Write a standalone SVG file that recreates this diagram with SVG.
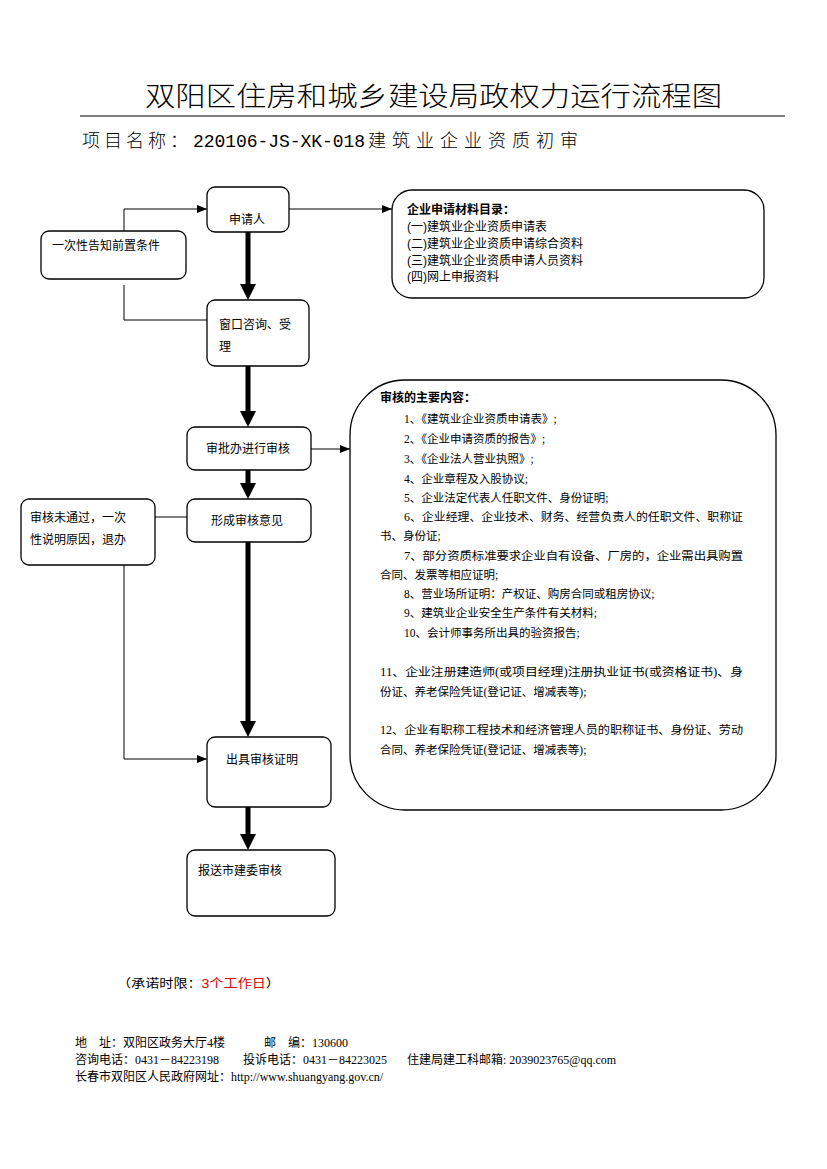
<svg xmlns="http://www.w3.org/2000/svg" width="827" height="1169" viewBox="0 0 827 1169">
<style>
.bg{fill:#fff}
.box{fill:#fff;stroke:#000;stroke-width:1.3}
.t{font-family:"Liberation Serif","Noto Sans CJK SC",sans-serif;font-size:11.5px;fill:#000}
.n{font-family:"Liberation Sans","Noto Sans CJK SC",sans-serif;font-size:12px;fill:#000}
.b{font-weight:bold}
.thin{fill:none;stroke:#000;stroke-width:1}
.thick{fill:none;stroke:#000;stroke-width:5}
.f{font-family:"Liberation Serif","Noto Sans CJK SC",sans-serif;font-size:12px;fill:#000}
</style>
<defs>
<marker id="ah" viewBox="0 0 16 16" refX="4" refY="8" markerWidth="16" markerHeight="16" markerUnits="userSpaceOnUse" orient="auto"><path d="M0,0 L16,8 L0,16 z" fill="#000"/></marker>
<marker id="as" viewBox="0 0 10 8" refX="10" refY="4" markerWidth="10" markerHeight="8" markerUnits="userSpaceOnUse" orient="auto"><path d="M0,0 L10,4 L0,8 z" fill="#000"/></marker>
</defs>
<rect class="bg" width="827" height="1169"/>

<g id="header">
<text x="145" y="106" font-family="Noto Sans CJK SC,sans-serif" font-size="27" font-weight="300" textLength="577" lengthAdjust="spacingAndGlyphs">双阳区住房和城乡建设局政权力运行流程图</text>
<line x1="80" y1="116" x2="785" y2="116" stroke="#000" stroke-width="1"/>
<text y="147" font-family="Noto Sans CJK SC,sans-serif" font-size="18" font-weight="300"><tspan x="82" letter-spacing="4">项目名称：</tspan><tspan x="193" font-family="Liberation Mono,monospace" textLength="172" lengthAdjust="spacing">220106-JS-XK-018</tspan><tspan x="368" letter-spacing="6">建筑业企业资质初审</tspan></text>
</g>

<g id="connectors">
<line class="thick" x1="248" y1="232" x2="248" y2="288" marker-end="url(#ah)"/>
<line class="thick" x1="248" y1="366" x2="248" y2="415" marker-end="url(#ah)"/>
<line class="thick" x1="248" y1="470" x2="248" y2="487" marker-end="url(#ah)"/>
<line class="thick" x1="248" y1="542" x2="248" y2="725" marker-end="url(#ah)"/>
<line class="thick" x1="248" y1="807" x2="248" y2="838" marker-end="url(#ah)"/>
<path class="thin" d="M124,231 V209 H207" marker-end="url(#as)"/>
<path class="thin" d="M124,285 V320 H207"/>
<line class="thin" x1="289" y1="209" x2="392" y2="209" marker-end="url(#as)"/>
<line class="thin" x1="311" y1="449" x2="350" y2="449" marker-end="url(#as)"/>
<line class="thin" x1="155" y1="517" x2="187" y2="517"/>
<path class="thin" d="M124,563 V759 H207" marker-end="url(#as)"/>
</g>

<g id="applicant">
<rect class="box" x="207" y="187" width="82" height="45" rx="8"/>
<text class="n" x="229" y="224" font-size="14">申请人</text>
</g>
<g id="precondition">
<rect class="box" x="41" y="231" width="145" height="48" rx="8"/>
<text class="n" x="52" y="250">一次性告知前置条件</text>
</g>
<g id="materials">
<rect class="box" x="392" y="190" width="372" height="108" rx="20"/>
<text class="n b" x="407" y="214" font-size="11">企业申请材料目录：</text>
<text class="n" x="407" y="231" font-size="11">(一)建筑业企业资质申请表</text>
<text class="n" x="407" y="248" font-size="11">(二)建筑业企业资质申请综合资料</text>
<text class="n" x="407" y="265" font-size="11">(三)建筑业企业资质申请人员资料</text>
<text class="n" x="407" y="281" font-size="11">(四)网上申报资料</text>
</g>
<g id="window">
<rect class="box" x="207" y="300" width="102" height="66" rx="8"/>
<text class="n" x="219" y="329">窗口咨询、受</text>
<text class="n" x="219" y="351">理</text>
</g>
<g id="review">
<rect class="box" x="187" y="427" width="124" height="43" rx="8"/>
<text class="n" x="206" y="453">审批办进行审核</text>
</g>
<g id="opinion">
<rect class="box" x="187" y="499" width="124" height="43" rx="8"/>
<text class="n" x="211" y="525">形成审核意见</text>
</g>
<g id="reject">
<rect class="box" x="21" y="499" width="134" height="66" rx="8"/>
<text class="n" x="30" y="522">审核未通过，一次</text>
<text class="n" x="30" y="544">性说明原因，退办</text>
</g>
<g id="content">
<rect class="box" x="350" y="380" width="426" height="430" rx="55"/>
<text class="n b" x="380" y="402" font-size="11">审核的主要内容：</text>
<text class="t" x="404" y="423">1、《建筑业企业资质申请表》;</text>
<text class="t" x="404" y="443">2、《企业申请资质的报告》;</text>
<text class="t" x="404" y="463">3、《企业法人营业执照》;</text>
<text class="t" x="404" y="483">4、企业章程及入股协议;</text>
<text class="t" x="404" y="502">5、企业法定代表人任职文件、身份证明;</text>
<text class="t" x="404" y="521" textLength="339" lengthAdjust="spacingAndGlyphs">6、企业经理、企业技术、财务、经营负责人的任职文件、职称证</text>
<text class="t" x="380" y="540">书、身份证;</text>
<text class="t" x="404" y="560" textLength="339" lengthAdjust="spacingAndGlyphs">7、部分资质标准要求企业自有设备、厂房的，企业需出具购置</text>
<text class="t" x="380" y="579">合同、发票等相应证明;</text>
<text class="t" x="404" y="598">8、营业场所证明：产权证、购房合同或租房协议;</text>
<text class="t" x="404" y="617">9、建筑业企业安全生产条件有关材料;</text>
<text class="t" x="404" y="637">10、会计师事务所出具的验资报告;</text>
<text class="t" x="380" y="676" textLength="363" lengthAdjust="spacingAndGlyphs">11、企业注册建造师(或项目经理)注册执业证书(或资格证书)、身</text>
<text class="t" x="380" y="696">份证、养老保险凭证(登记证、增减表等);</text>
<text class="t" x="380" y="734" textLength="363" lengthAdjust="spacingAndGlyphs">12、企业有职称工程技术和经济管理人员的职称证书、身份证、劳动</text>
<text class="t" x="380" y="754">合同、养老保险凭证(登记证、增减表等);</text>
</g>
<g id="certificate">
<rect class="box" x="207" y="737" width="124" height="70" rx="8"/>
<text class="n" x="226" y="764">出具审核证明</text>
</g>
<g id="submit">
<rect class="box" x="187" y="850" width="148" height="66" rx="8"/>
<text class="n" x="198" y="875">报送市建委审核</text>
</g>

<g id="footer">
<text class="n" x="117" y="988" font-size="14.5" textLength="163" lengthAdjust="spacingAndGlyphs">（承诺时限：<tspan fill="#e00000">3个工作日</tspan>）</text>
<text class="f" x="75" y="1047">地　址：双阳区政务大厅4楼</text>
<text class="f" x="264" y="1047">邮　编：130600</text>
<text class="f" x="75" y="1064">咨询电话：0431－84223198</text>
<text class="f" x="243" y="1064">投诉电话：0431－84223025</text>
<text class="f" x="407" y="1064">住建局建工科邮箱: 2039023765@qq.com</text>
<text class="f" x="75" y="1081">长春市双阳区人民政府网址：http://www.shuangyang.gov.cn/</text>
</g>
</svg>
